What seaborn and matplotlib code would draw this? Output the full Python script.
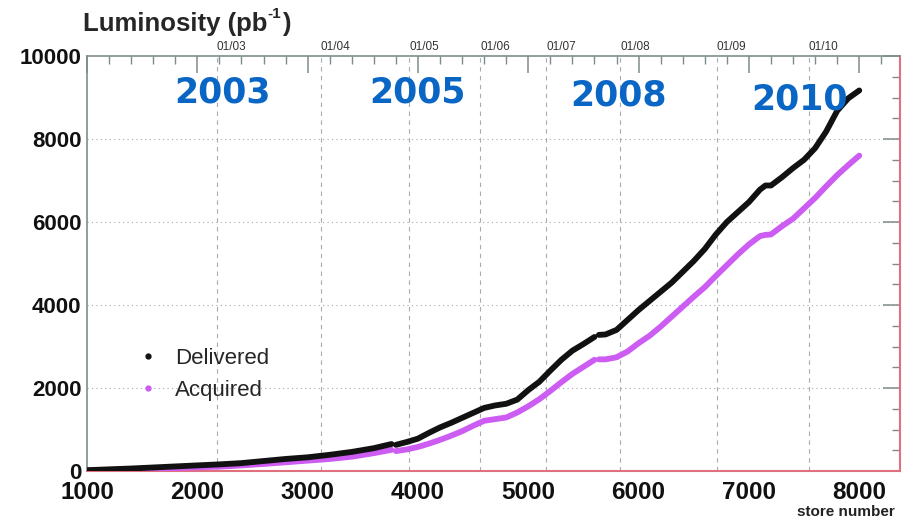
import pandas as pd
import matplotlib.pyplot as plt
from matplotlib.lines import Line2D
from matplotlib.ticker import MultipleLocator
from matplotlib.transforms import offset_copy
import seaborn as sns

# Store numbers and integrated luminosity (pb^-1).
# Segments are separated where the curves have small gaps.
del_seg1_store = [1000, 1200, 1400, 1600, 1800, 2000, 2200, 2400, 2600, 2800, 3000, 3200, 3400, 3600, 3760]
del_seg1_lumi = [20, 40, 60, 85, 110, 135, 160, 190, 240, 290, 330, 390, 460, 550, 650]
del_seg2_store = [3800, 3900, 4000, 4100, 4200, 4300, 4400, 4500, 4600, 4700, 4800, 4900, 5000,
                  5100, 5200, 5300, 5400, 5500, 5600]
del_seg2_lumi = [630, 700, 780, 920, 1050, 1160, 1280, 1400, 1520, 1580, 1620, 1720, 1950,
                 2150, 2420, 2680, 2900, 3060, 3230]
del_seg3_store = [5640, 5700, 5800, 5900, 6000, 6100, 6200, 6300, 6400, 6500, 6600, 6700, 6800,
                  6900, 7000, 7100, 7150, 7200, 7300, 7400, 7500, 7600, 7700, 7800, 7900, 8000]
del_seg3_lumi = [3280, 3290, 3400, 3640, 3880, 4100, 4320, 4540, 4800, 5060, 5350, 5700, 6000,
                 6240, 6480, 6780, 6880, 6880, 7080, 7300, 7500, 7780, 8180, 8680, 8980, 9170]

acq_seg1_store = del_seg1_store
acq_seg1_lumi = [10, 25, 40, 55, 70, 90, 105, 135, 170, 210, 250, 290, 345, 430, 510]
acq_seg2_store = del_seg2_store
acq_seg2_lumi = [480, 520, 580, 660, 750, 850, 960, 1090, 1210, 1250, 1290, 1410, 1560,
                 1730, 1930, 2140, 2340, 2510, 2680]
acq_seg3_store = del_seg3_store
acq_seg3_lumi = [2690, 2690, 2740, 2880, 3080, 3260, 3480, 3720, 3960, 4200, 4430, 4700, 4960,
                 5220, 5460, 5660, 5690, 5700, 5900, 6080, 6330, 6580, 6860, 7130, 7370, 7600]

# Calendar markers (month/year) on the store-number axis
date_labels = ['01/03', '01/04', '01/05', '01/06', '01/07', '01/08', '01/09', '01/10']
date_stores = [2176, 3118, 3923, 4566, 5163, 5833, 6710, 7543]

# Big year annotations
year_labels = ['2003', '2005', '2008', '2010']
year_x = [2227, 3991, 5818, 7454]
year_y = [9110, 9110, 9060, 8940]

black = '#111111'
magenta = '#cc5cf2'
blue = '#0a66c4'
gray = '#7f8c8c'
pink = '#e0707e'


def build(segments, series):
    frames = []
    for i, (s, l) in enumerate(segments):
        frames.append(pd.DataFrame({'store': s, 'lumi': l, 'seg': i, 'series': series}))
    return pd.concat(frames, ignore_index=True)


delivered = build([(del_seg1_store, del_seg1_lumi), (del_seg2_store, del_seg2_lumi),
                   (del_seg3_store, del_seg3_lumi)], 'Delivered')
acquired = build([(acq_seg1_store, acq_seg1_lumi), (acq_seg2_store, acq_seg2_lumi),
                  (acq_seg3_store, acq_seg3_lumi)], 'Acquired')

sns.set_theme(style='white')
plt.rcParams['font.family'] = ['Liberation Sans', 'DejaVu Sans']

fig = plt.figure(figsize=(9.11, 5.22), dpi=100)
ax = fig.add_axes([0.0955, 0.0977, 0.8925, 0.795])

# gridlines
for s in date_stores:
    ax.axvline(s, color='#a5aeae', ls=(0, (4, 4)), lw=0.8, zorder=0)
for v in [2000, 4000, 6000, 8000]:
    ax.axhline(v, color='#a5aeae', ls=(0, (1, 3)), lw=0.8, zorder=0)

sns.lineplot(data=acquired, x='store', y='lumi', units='seg', estimator=None,
             color=magenta, lw=4.2, ax=ax, zorder=3)
sns.lineplot(data=delivered, x='store', y='lumi', units='seg', estimator=None,
             color=black, lw=4.2, ax=ax, zorder=4)

ax.set_xlim(1000, 8370)
ax.set_ylim(0, 10000)
ax.set_xlabel('')
ax.set_ylabel('')

ax.xaxis.set_major_locator(MultipleLocator(1000))
ax.xaxis.set_minor_locator(MultipleLocator(200))
ax.yaxis.set_major_locator(MultipleLocator(2000))
ax.yaxis.set_minor_locator(MultipleLocator(500))
ax.tick_params(which='both', direction='in', top=True, right=True, color=gray)
ax.tick_params(which='major', length=12, width=1.1)
ax.tick_params(which='minor', length=6, width=1)
ax.tick_params(axis='x', which='major', labelsize=17.5, pad=7)
ax.tick_params(axis='y', which='major', labelsize=16, pad=4)
for lab in ax.get_xticklabels() + ax.get_yticklabels():
    lab.set_fontweight('bold')
    lab.set_color('#111111')

for side in ['left', 'top']:
    ax.spines[side].set_color(gray)
    ax.spines[side].set_linewidth(1.2)
for side in ['bottom', 'right']:
    ax.spines[side].set_color(pink)
    ax.spines[side].set_linewidth(1.5)

# date labels along the top
for lab, s in zip(date_labels, date_stores):
    ax.text(s, 1.008, lab, transform=ax.get_xaxis_transform(), ha='left', va='bottom',
            fontsize=8.5, color='#333333')

# year annotations
for lab, x, y in zip(year_labels, year_x, year_y):
    ax.text(x, y, lab, ha='center', va='center', fontsize=25, fontweight='bold',
            color=blue, family='DejaVu Sans', zorder=5)

handles = [Line2D([], [], marker='o', ls='', color=black, markersize=3.5),
           Line2D([], [], marker='o', ls='', color=magenta, markersize=3.5)]
ax.legend(handles, ['Delivered', 'Acquired'], loc='upper left', bbox_to_anchor=(0.03, 0.345),
          frameon=False, fontsize=16, handletextpad=0.45, labelspacing=0.5, handlelength=1.5)

# y-axis title with a plain-hyphen superscript
renderer = fig.canvas.get_renderer()
t1 = fig.text(83 / 911, 1 - 24 / 522, 'Luminosity (pb', ha='left', va='center',
              fontsize=18.5, fontweight='bold')
w = t1.get_window_extent(renderer).width
t2 = fig.text(83 / 911, 1 - 24 / 522, '-1',
              transform=offset_copy(fig.transFigure, fig=fig, x=w * 72 / fig.dpi, y=7, units='points'),
              ha='left', va='center', fontsize=11, fontweight='bold')
w2 = t2.get_window_extent(renderer).width
fig.text(83 / 911, 1 - 24 / 522, ')',
         transform=offset_copy(fig.transFigure, fig=fig, x=(w + w2) * 72 / fig.dpi + 0.5, y=0, units='points'),
         ha='left', va='center', fontsize=18.5, fontweight='bold')

fig.text(895 / 911, 1 - 512 / 522, 'store number', ha='right', va='center',
         fontsize=11, fontweight='bold', color='#222222')

fig.savefig('out.png', dpi=100)
